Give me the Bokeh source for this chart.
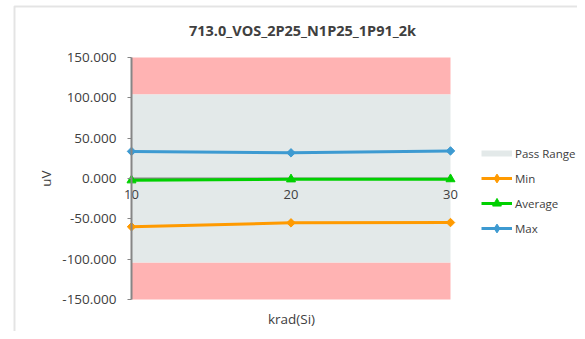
import numpy as np
from bokeh.plotting import figure
from bokeh.models import (ColumnDataSource, FixedTicker, NumeralTickFormatter, Legend,
                          LegendItem, Label, LinearAxis, Range1d, BoxAnnotation)
from bokeh.embed import file_html
from bokeh.resources import INLINE

# ---- data ----
title_text = "713.0_VOS_2P25_N1P25_1P91_2k"
x_label = "krad(Si)"
y_label = "uV"
krad = [10, 20, 30]
min_vals = [-59.8, -55.0, -54.6]
avg_vals = [-2.2, -1.0, -0.8]
max_vals = [33.6, 31.8, 34.2]
pass_low = -104.0
pass_high = 104.0
y_min = -150.0
y_max = 150.0
y_ticks = [-150, -100, -50, 0, 50, 100, 150]
x_ticks = [10, 20, 30]

# ---- layout (pixels) ----
W, H = 577, 331
PLOT_L, PLOT_R, PLOT_T, PLOT_B = 131, 450, 57, 299

FONT = "Open Sans"
TXT = "#404040"
AXIS_GRAY = "#868686"
PINK = "#FFB3B3"
PASS = "#E3E9E9"
C_MIN = "#FF9A00"
C_AVG = "#00D000"
C_MAX = "#3D9AD1"

xs = (krad[-1] - krad[0]) / (PLOT_R - PLOT_L)
ys = (y_max - y_min) / (PLOT_B - PLOT_T)
x_start = krad[0] - PLOT_L * xs
x_end = krad[-1] + (W - PLOT_R) * xs
y_end = y_max + PLOT_T * ys
y_start = y_min - (H - PLOT_B) * ys

def px2x(px):
    return x_start + px * xs

def py2y(py):
    return y_end - py * ys

p = figure(width=W, height=H, output_backend="svg", toolbar_location=None,
           x_range=Range1d(x_start, x_end), y_range=Range1d(y_start, y_end),
           x_axis_type=None, y_axis_type=None, min_border=0)
p.outline_line_color = None
p.xgrid.visible = False
p.ygrid.visible = False
p.background_fill_color = "white"
p.border_fill_color = "white"

# chart-area border
p.add_layout(BoxAnnotation(left=px2x(14), right=px2x(W + 50), top=py2y(6), bottom=py2y(H + 50),
                           fill_alpha=0, line_color="#a6a6a6", line_width=2, level="underlay"))

# bands
p.quad(left=[krad[0]], right=[krad[-1]], bottom=[pass_high], top=[y_max],
       fill_color=PINK, line_color=None, level="image")
p.quad(left=[krad[0]], right=[krad[-1]], bottom=[y_min], top=[pass_low],
       fill_color=PINK, line_color=None, level="image")
p.quad(left=[krad[0]], right=[krad[-1]], bottom=[pass_low], top=[pass_high],
       fill_color=PASS, line_color=None, level="image")

# axes
yaxis = LinearAxis(ticker=FixedTicker(ticks=y_ticks), fixed_location=krad[0],
                   bounds=(y_min, y_max),
                   formatter=NumeralTickFormatter(format="0.000"))
yaxis.axis_line_color = AXIS_GRAY
yaxis.axis_line_width = 2
yaxis.major_tick_line_color = AXIS_GRAY
yaxis.major_tick_out = 4
yaxis.major_tick_in = 0
yaxis.minor_tick_line_color = None
yaxis.major_label_standoff = 11
yaxis.major_label_text_font = FONT
yaxis.major_label_text_font_size = "13.5px"
yaxis.major_label_text_color = TXT
p.add_layout(yaxis, "left")

xaxis = LinearAxis(ticker=FixedTicker(ticks=x_ticks), fixed_location=0,
                   bounds=(krad[0], krad[-1]))
xaxis.axis_line_color = AXIS_GRAY
xaxis.axis_line_width = 2
xaxis.major_tick_line_color = None
xaxis.minor_tick_line_color = None
xaxis.major_label_standoff = 5
xaxis.major_label_text_font = FONT
xaxis.major_label_text_font_size = "13px"
xaxis.major_label_text_color = TXT
xaxis.level = "underlay"
p.add_layout(xaxis, "below")

# series
src = ColumnDataSource(dict(x=krad, mn=min_vals, av=avg_vals, mx=max_vals))
l_min = p.line("x", "mn", source=src, line_color=C_MIN, line_width=3)
p.scatter("x", "mn", source=src, marker="square", angle=np.pi / 4, size=6,
          fill_color=C_MIN, line_color=C_MIN)
l_avg = p.line("x", "av", source=src, line_color=C_AVG, line_width=3)
s_avg = p.scatter("x", "av", source=src, marker="triangle", size=9,
                  fill_color=C_AVG, line_color=C_AVG)
l_max = p.line("x", "mx", source=src, line_color=C_MAX, line_width=3)
p.scatter("x", "mx", source=src, marker="square", angle=np.pi / 4, size=6,
          fill_color=C_MAX, line_color=C_MAX)

# legend-only glyphs (no visible points)
nan_src = ColumnDataSource(dict(x=[np.nan], y=[np.nan]))
pass_r = p.line("x", "y", source=nan_src, line_color=PASS, line_width=6, line_cap="butt")
lg_min = p.scatter("x", "y", source=nan_src, marker="diamond", fill_color=C_MIN, line_color=C_MIN)
lg_max = p.scatter("x", "y", source=nan_src, marker="diamond", fill_color=C_MAX, line_color=C_MAX)

legend = Legend(items=[
    LegendItem(label="Pass Range", renderers=[pass_r]),
    LegendItem(label="Min", renderers=[l_min, lg_min]),
    LegendItem(label="Average", renderers=[l_avg, s_avg]),
    LegendItem(label="Max", renderers=[l_max, lg_max]),
], location=(481, H - 239))
legend.padding = 0
legend.margin = 0
legend.spacing = 3
legend.glyph_width = 31
legend.glyph_height = 22
legend.label_height = 22
legend.label_standoff = 3
legend.border_line_color = None
legend.background_fill_alpha = 0
legend.label_text_font = FONT
legend.label_text_font_size = "11.5px"
legend.label_text_color = TXT
p.add_layout(legend, "center")

# titles (screen units, frame = whole canvas, y measured from bottom)
p.add_layout(Label(x=302, y=H - 30, x_units="screen", y_units="screen", text=title_text,
                   text_font=FONT, text_font_size="14.5px", text_font_style="bold",
                   text_color=TXT, text_align="center", text_baseline="middle"))
p.add_layout(Label(x=291, y=H - 318, x_units="screen", y_units="screen", text=x_label,
                   text_font=FONT, text_font_size="13.5px",
                   text_color=TXT, text_align="center", text_baseline="middle"))
p.add_layout(Label(x=45, y=H - 178, x_units="screen", y_units="screen", text=y_label,
                   angle=np.pi / 2, text_font=FONT, text_font_size="13.5px",
                   text_color=TXT, text_align="center", text_baseline="middle"))

open("out.html", "w").write(file_html(p, INLINE))
